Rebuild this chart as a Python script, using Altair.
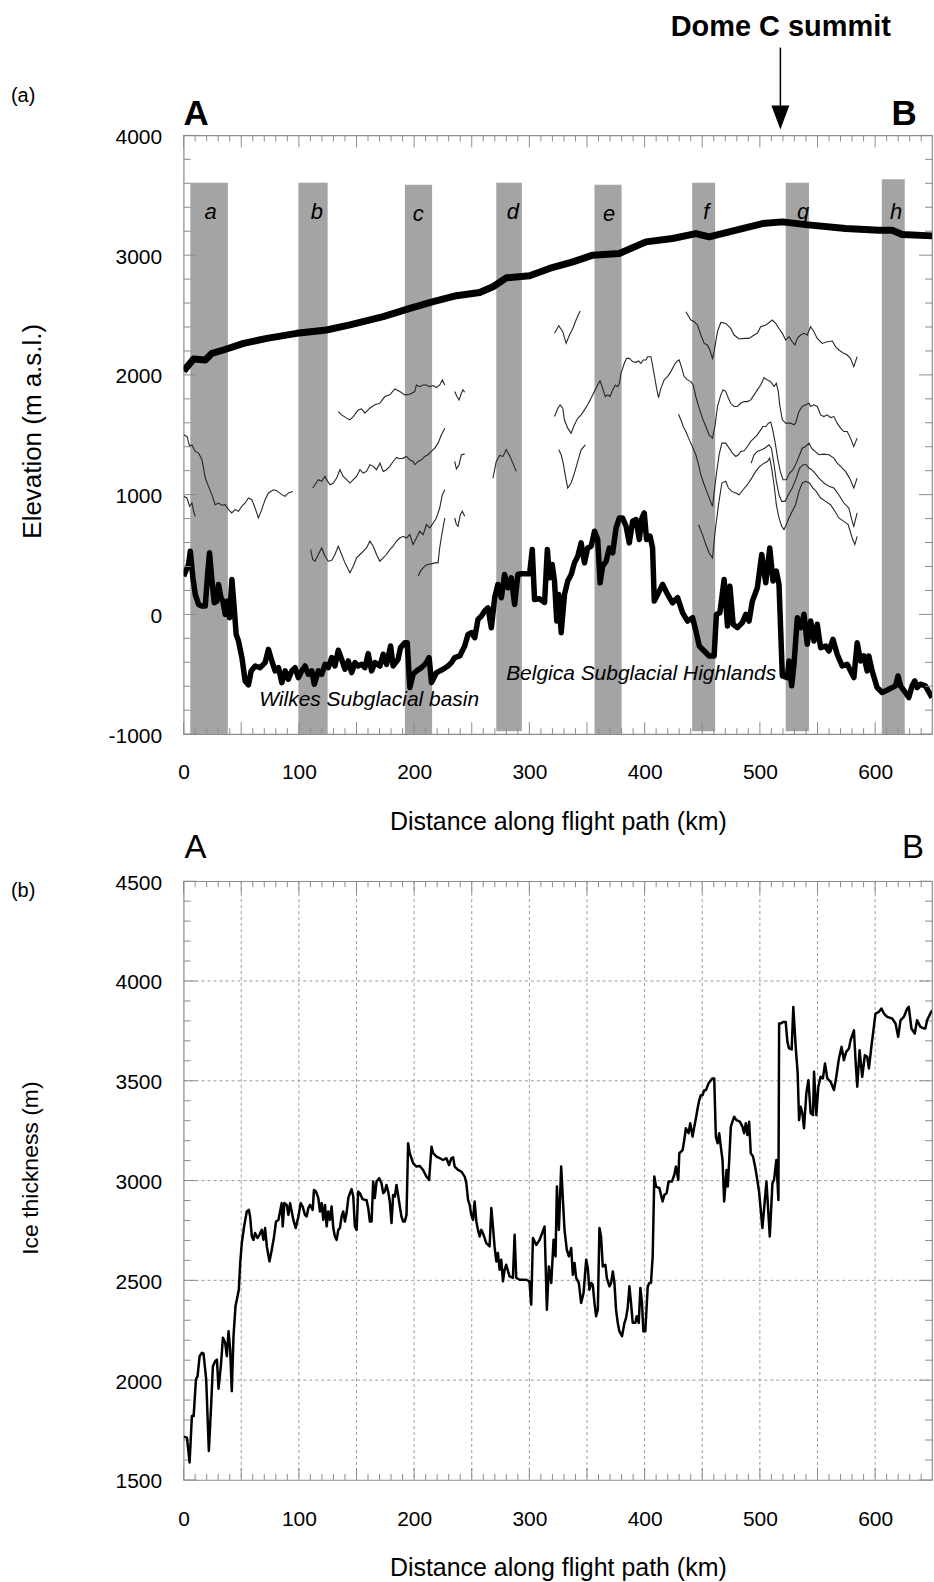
import altair as alt
import pandas as pd

# ---------------- panel (a): surface and bed ----------------
surface_km = [0, 8.7, 18.8, 24.6, 34.6, 52, 72.2, 98.2, 124, 144.3, 173.2, 196.3, 216.5, 236.7, 256.9, 268.4,
              280, 300.2, 317.5, 337.7, 355, 378, 401.2, 424.2, 444.5, 456, 473.3, 502.2, 519.5, 539.7,
              574.4, 603.2, 614.7, 623.4, 649.4]
surface_el = [2033, 2133, 2125, 2180, 2208, 2263, 2305, 2347, 2375, 2417, 2486, 2555, 2611, 2661, 2688, 2736,
              2811, 2828, 2889, 2944, 3000, 3014, 3111, 3139, 3180, 3153, 3194, 3264, 3278, 3255,
              3222, 3208, 3208, 3172, 3161]

bed_km = [0, 4.3, 5.8, 8.1, 10.1, 13, 15.9, 18.8, 20.8, 22.5, 24.6, 26.6, 28.9, 30.3, 32.4, 34.1, 36.1, 38.1,
          39.8, 41.9, 43.9, 45.6, 47.6, 50.6, 53.4, 56.3, 58.6, 62.1, 66.4, 70.7, 73.6, 76.5, 79.4, 82.3,
          85.2, 88.1, 90.9, 93.8, 96.7, 99.6, 102.5, 105.4, 108.2, 111.2, 113.4, 116.9, 119.8, 122.7, 125.5,
          128.5, 131.3, 134.2, 137.1, 140, 142.9, 145.8, 148.7, 151.5, 154.5, 157.3, 160.2, 163.1, 166,
          170.3, 173.2, 176.1, 179.6, 181.8, 186.1, 188.2, 192, 194, 196.3, 199.1, 202.1, 206.4, 210.7, 213,
          215.1, 219.4, 225.1, 229.4, 232.4, 235.2, 239.6, 243.9, 246.8, 249.7, 252.6, 255.4, 258.4, 261.2,
          264.1, 267, 269.9, 272.7, 275.7, 278.5, 281.4, 284.3, 287.2, 290, 293, 300.2, 302.5, 304.5, 308.8,
          313.2, 315.6, 317.5, 319.8, 321.8, 323.8, 325.5, 327.6, 330.5, 333.3, 336.3, 339.1, 342, 344.9,
          347.8, 350.6, 353.6, 356.5, 359.3, 361.4, 363.6, 366.6, 369.4, 372.3, 375.2, 378.1, 380.9, 383.9,
          386.7, 389.6, 392.6, 395.4, 397.7, 399.7, 401.7, 404.7, 406.9, 408.4, 411.3, 415.6, 419.9, 424.2,
          428.6, 432.9, 437.2, 441.6, 444.5, 447.4, 451.7, 456, 460.3, 462.3, 465.3, 469, 471.9, 474, 476.8,
          480.5, 484.8, 487.8, 490.6, 493.5, 497.8, 501.6, 505.1, 508.6, 511.4, 514.3, 516.6, 519.5, 523.8,
          525.3, 527.6, 529.6, 532.5, 535.4, 538.3, 541.1, 544.1, 547, 549.8, 552.7, 557.1, 559.9, 563.4,
          567.1, 571.4, 575.8, 578.7, 581.6, 584.4, 587.4, 590.2, 593.1, 594.5, 597.4, 601.7, 606.1, 611.9,
          617.7, 619.9, 622, 626.3, 629.2, 632.1, 634.4, 636.4, 639.3, 643.6, 649.4]
bed_el = [319, 417, 528, 305, 167, 83, 69, 69, 333, 514, 278, 97, 111, 250, 139, 111, 0, 111,
          -28, 292, 55, -167, -222, -361, -556, -589, -472, -431, -445, -403, -292, -389, -472, -445,
          -570, -472, -542, -472, -445, -528, -472, -431, -500, -472, -583, -472, -500, -417, -445,
          -361, -431, -300, -375, -458, -389, -486, -403, -431, -417, -445, -328, -472, -403,
          -431, -333, -417, -264, -431, -375, -278, -236, -236, -611, -500, -472, -445, -403, -361,
          -570, -486, -458, -431, -403, -361, -347, -264, -167, -153, -195, -42, -14, 28,
          55, -111, 139, 250, 139, 333, 222, 305, 83, 333, 339, 339, 542, 125, 130,
          100, 542, 305, 417, 278, -56, 167, -153, 167, 278, 333, 430, 486, 597,
          430, 555, 569, 694, 625, 264, 403, 444, 555, 514, 722, 805, 805, 736,
          597, 778, 792, 625, 805, 847, 625, 653, 555, 111, 167, 250, 167, 97,
          139, 14, -56, -28, -139, -264, -306, -347, -347, 0, 14, 292, -97, 236, -83,
          -111, -69, 0, -56, 111, 222, 500, 264, 555, 278, 361, 250, -514, -528,
          -389, -597, -417, -28, -111, 0, -250, -56, -222, -83, -278, -264, -306, -208,
          -333, -431, -417, -472, -528, -236, -389, -347, -472, -347, -472, -611, -653, -625,
          -597, -514, -597, -653, -695, -597, -555, -611, -583, -597, -695]

# ---------------- panel (a): internal layers (thin lines) ----------------
l1_km = [0, 2.9, 5.2, 7.2, 10.1, 13, 15.9, 17.3, 18.8, 21.6, 24.5, 27.4, 30.3, 33.2, 36.1, 39, 41.8, 44.7,
         47.6, 50.5, 53.4, 56.3, 59.2, 62, 64.9, 67.8, 70.7, 73.6, 77.9, 80.8, 85.1, 88, 90.9, 94.7]
l1_el = [1500, 1486, 1403, 1416, 1361, 1347, 1291, 1222, 1139, 1069, 1000, 916, 930, 911, 916, 875, 847, 875,
         861, 903, 930, 972, 958, 889, 805, 875, 958, 1014, 1041, 1033, 1000, 986, 1014, 1027]
l2_km = [0, 2.9, 5.2, 7.2, 8.7, 10.1]
l2_el = [986, 972, 903, 930, 861, 819]
l3_km = [134.2, 137.1, 141.4, 144.3, 147.2, 151.5, 154.4, 157.3, 161.6, 165.9, 170.3, 174.6, 178.9, 183.3,
         187.6, 191.9, 196.2, 200.6, 202, 204.9, 207.8, 210.7, 213.6, 216.5, 219.3, 222.2, 224.5, 226.6]
l3_el = [1694, 1666, 1639, 1625, 1652, 1708, 1716, 1680, 1722, 1750, 1764, 1819, 1833, 1883,
         1861, 1833, 1839, 1861, 1916, 1902, 1916, 1916, 1902, 1911, 1894, 1916, 1958, 1916]
l4_km = [235.2, 237.2, 239, 241, 242.4, 243.9]
l4_el = [1861, 1819, 1791, 1847, 1875, 1855]
l5_km = [112, 114, 116.9, 119.8, 122.7, 124.1, 127, 129.9, 132.8, 135.6, 138.5, 141.4, 144.3, 147.2, 150.1,
         153, 155.8, 158.7, 161.6, 164.5, 167.4, 170.3, 173.2, 176, 178.9, 181.8, 184.7, 187.6, 190.5,
         193.4, 196.2, 199.1, 200.6, 203.5, 206.3, 209.2, 212.1, 215, 217.9, 220.8, 223.7, 226.6]
l5_el = [1055, 1083, 1125, 1111, 1152, 1125, 1083, 1097, 1138, 1208, 1152, 1125, 1097, 1125, 1152,
         1208, 1180, 1194, 1250, 1236, 1208, 1263, 1194, 1208, 1236, 1277, 1311, 1300, 1305,
         1319, 1291, 1277, 1250, 1277, 1291, 1319, 1333, 1361, 1388, 1430, 1500, 1555]
l6_km = [235.2, 236.7, 239, 241, 243.9]
l6_el = [1277, 1216, 1250, 1333, 1338]
l7_km = [110.2, 112, 114, 116.9, 119.8, 122.7, 125.5, 128.4, 131.3, 134.2, 137.1, 140, 142.9, 144.3, 147.2,
         150.1, 153, 155.8, 158.7, 161.6, 164.5, 167.4, 170.3, 173.2, 176, 178.9, 181.8, 184.7, 187.6,
         190.5, 193.4, 196.2, 199.1, 202, 204.9, 207.8, 210.7, 213.6, 216.5, 219.3, 222.2, 224.5, 226.6]
l7_el = [541, 458, 444, 500, 555, 486, 444, 450, 500, 569, 500, 430, 375, 347, 402,
         472, 500, 527, 555, 611, 569, 500, 444, 472, 500, 541, 569, 611, 638,
         652, 638, 666, 583, 638, 694, 666, 750, 722, 763, 805, 888, 1000, 1041]
l8_km = [203.5, 205.5, 207.8, 210.1, 212.1, 215, 217.9, 220.8, 222.2, 224.5, 226.6]
l8_el = [319, 361, 388, 411, 416, 422, 430, 430, 555, 694, 805]
l9_km = [235.2, 236.7, 238.1, 240.1, 241.8, 243.9]
l9_el = [805, 750, 736, 833, 861, 819]
l10_km = [268.4, 271.3, 274.2, 277.1, 279.9, 282.8, 285.7, 288.6]
l10_el = [1138, 1277, 1327, 1319, 1375, 1327, 1263, 1194]
l11_km = [321.8, 325.5, 329, 331.9, 334.8, 337.7, 340.5, 344]
l11_el = [2347, 2411, 2361, 2263, 2333, 2388, 2458, 2533]
l12_km = [435.8, 440.1, 443, 445.9, 448.8, 451.7, 454.5, 456.6, 458.9, 460.3, 463.2, 466.1, 470.4, 474.7,
          477.6, 482, 486.3, 490.6, 495, 497.8, 500.7, 505.1, 508, 510.8, 513.7, 516.6, 519.5, 522.4,
          525.3, 528.1, 530.4, 532.5, 535.3, 538.2, 541.1, 544, 546.9, 549.8, 554.1, 558.4, 562.8, 565.7,
          568.5, 572.9, 575.8, 578.6, 581.5, 584.4]
l12_el = [2527, 2458, 2444, 2416, 2333, 2263, 2250, 2208, 2138, 2194, 2361, 2438, 2430, 2388,
          2333, 2300, 2305, 2305, 2333, 2347, 2402, 2416, 2438, 2458, 2430, 2388, 2347, 2291,
          2319, 2277, 2250, 2305, 2333, 2347, 2333, 2402, 2361, 2305, 2263, 2277, 2283, 2236,
          2208, 2180, 2166, 2138, 2069, 2152]
l13_km = [321.8, 324.7, 326.7, 329, 330.4, 333.3, 336.2, 339.1, 342, 344.9, 347.8, 350.6, 353.5, 356.4,
          359.3, 361.3, 363.6, 365.9, 368, 370, 372.3, 374.6, 376.6, 378.1, 379.5, 382.4, 384.4, 386.7,
          389.6, 392.5, 394.8, 396.8, 398.8, 401.2, 402.6, 405.5, 408.4, 410.4, 412.1, 414.1, 417, 419.9,
          422.8, 425.7, 427.7, 430, 432.3, 434.3, 437.2, 440.1, 442.1, 444.4, 447.3, 450.2, 453.1, 456,
          458.9, 461.2, 463.2, 466.1, 468.1, 470.4, 472.7, 474.7, 477.6, 480.5, 483.4, 486.3, 489.2,
          492.1, 495, 497.8, 500.7, 503.6, 506.5, 509.4, 512.3, 514.3, 516, 517.2, 519.5, 522.4, 526.7,
          529.6, 531, 533.9, 536.8, 539.7, 542.6, 544, 546.9, 549.8, 552.7, 555.6, 558.4, 561.3, 564.2,
          567.1, 570, 572.9, 575.8, 578.6, 581.5, 584.4]
l13_el = [1652, 1722, 1750, 1722, 1625, 1555, 1513, 1583, 1638, 1666, 1708, 1750, 1805, 1861,
          1916, 1950, 1888, 1819, 1833, 1819, 1875, 1916, 1902, 1930, 2013, 2097, 2138, 2138,
          2111, 2105, 2116, 2097, 2125, 2125, 2152, 2152, 1999, 1888, 1811, 1888, 1958, 1986,
          2027, 2083, 2111, 2125, 2055, 1986, 1958, 1944, 1916, 1819, 1722, 1638, 1569, 1499,
          1472, 1583, 1736, 1833, 1875, 1861, 1805, 1763, 1736, 1736, 1763, 1777, 1777,
          1791, 1833, 1875, 1916, 1977, 1958, 1944, 1902, 1930, 1861, 1750, 1625, 1597, 1597,
          1583, 1597, 1694, 1736, 1750, 1763, 1736, 1750, 1736, 1666, 1652, 1666, 1644, 1652,
          1597, 1555, 1527, 1527, 1472, 1402, 1472]
l14_km = [325.5, 327.6, 329.6, 331.3, 333.3, 336.2, 339.1, 342, 344.9, 348.6]
l14_el = [1374, 1333, 1250, 1152, 1055, 1097, 1180, 1277, 1374, 1416]
l15_km = [429.4, 431.5, 433.5, 435.8, 438.1, 440.1, 442.1, 444.4, 446.8, 448.8, 451.7, 454.5, 456.6, 458.9,
          461.8, 464.6, 467, 470.4, 473.3, 476.2, 479.1, 481.4, 483.4, 486.3, 489.2, 492.1, 495, 497.8,
          500.7, 502.7, 505.1, 507.4, 509.4, 510.8, 513.1, 515.4, 517.7, 520.1, 523, 525.8, 528.7, 531.6,
          534.5, 536.8, 539.7, 542.6, 544.9, 547.8, 551.2, 555.6, 559.9, 564.2, 567.1, 570, 574.3, 577.8,
          581.5, 584.4]
l15_el = [1672, 1624, 1569, 1527, 1472, 1430, 1388, 1333, 1250, 1166, 1083, 1013, 958, 902,
          1138, 1333, 1430, 1430, 1388, 1347, 1319, 1333, 1361, 1366, 1402, 1444, 1472, 1499,
          1541, 1569, 1569, 1597, 1605, 1555, 1444, 1305, 1194, 1124, 1124, 1180, 1208, 1263,
          1333, 1388, 1402, 1430, 1388, 1361, 1333, 1338, 1333, 1305, 1263, 1236, 1194, 1138,
          1055, 1138]
l16_km = [492.4, 495, 497.8, 501.6, 505.1, 507.9, 510, 512.3, 514.3, 516.6, 518.9, 521.8, 524.7, 528.1,
          531.6, 534.5, 537.4, 540.3, 542.6, 544.9, 547.8, 551.2, 555.6, 559.9, 564.2, 568.5, 572.9,
          577.2, 580.1, 581.5, 584.4]
l16_el = [1263, 1333, 1361, 1374, 1394, 1416, 1388, 1250, 1111, 999, 944, 944, 999, 1055,
          1138, 1222, 1250, 1250, 1222, 1208, 1180, 1138, 1097, 1069, 1055, 999, 930,
          888, 777, 736, 847]
l17_km = [446.8, 450.2, 453.1, 456, 458.9, 461.2, 464.1, 467, 470.4, 472.7, 475.6, 479.1, 482, 485.4,
          489.2, 492.9, 496.4, 499.9, 503.6, 506.5, 508.5, 510.2, 512.3, 514.3, 516.6, 518.9, 520.9,
          522.9, 525.2, 528.1, 531, 533.9, 536.8, 539.7, 543.1, 546, 548.9, 552.7, 557, 561.3, 565.1,
          568.5, 572.9, 576.6, 580.1, 582.4, 584.4]
l17_el = [749, 666, 583, 513, 472, 694, 916, 1097, 1111, 1055, 1027, 1013, 999, 1041,
          1083, 1138, 1194, 1236, 1263, 1277, 1305, 1222, 1083, 916, 805, 736, 708,
          749, 805, 861, 916, 1027, 1097, 1111, 1097, 1055, 1027, 972, 944, 916, 861,
          805, 777, 749, 638, 583, 652]

# ---------------- panel (a): shaded sections, labels ----------------
bar_letter = ["a", "b", "c", "d", "e", "f", "g", "h"]
bar_start = [5.8, 99.6, 192.0, 271.3, 356.5, 441.3, 522.4, 605.8]
bar_end = [38.4, 125.0, 215.6, 293.5, 380.0, 461.2, 542.6, 625.7]
bar_top = [3605, 3605, 3588, 3605, 3588, 3605, 3605, 3633]
bar_bottom = [-1000, -1000, -1000, -975, -1000, -975, -975, -1000]
letter_km = [23.5, 115.5, 203.5, 285.7, 369.2, 453.6, 537.4, 618.2]
letter_el = [3305, 3305, 3283, 3305, 3283, 3305, 3305, 3305]

region_text = ["Wilkes Subglacial basin", "Belgica Subglacial Highlands"]
region_km = [161.0, 397.0]
region_el = [-764, -548]

dome_text = ["Dome C summit"]
dome_text_km = [518.1]
dome_arrow_km = [517.8]

# ---------------- panel (b): ice thickness ----------------
thick_km = [0, 2.9, 5.2, 7.2, 8.7, 10.7, 12.1, 13.9, 15.9, 17.3, 19.6, 21.9, 24, 25.4, 27.4, 28.9, 30.3,
            32.3, 34.1, 36.1, 37.5, 39, 40.4, 41.8, 43.3, 45, 46.8, 47.9, 49.1, 50.5, 52.5, 54.8, 56.6,
            57.7, 59.2, 60.6, 62, 64.1, 65.8, 67.8, 69.3, 70.7, 72.2, 74.5, 76.5, 78.5, 80.2, 82.3, 83.7,
            85.1, 86, 87.4, 89.5, 90.9, 92.4, 93.8, 95.2, 97.3, 99.6, 101.6, 103.3, 105.3, 106.8, 108.2,
            109.7, 112, 113.1, 114.9, 116.9, 118.3, 119.8, 121.2, 122.7, 124.1, 125.5, 127, 128.4, 129.9,
            131.3, 132.8, 134.2, 135.6, 137.1, 138.5, 140, 141.4, 142.9, 144.3, 145.7, 147.2, 148.6, 150.1,
            151.5, 153, 155.3, 157.3, 158.7, 160.2, 161.6, 163.1, 164.5, 165.9, 167.4, 169.7, 171.7, 173.2,
            174.6, 176, 177.5, 178.9, 180.4, 181.8, 183.3, 184.7, 186.1, 187.6, 189, 190.5, 191.9, 193.4,
            194.8, 196.2, 199.1, 202, 204.9, 207.8, 210.7, 213, 215.1, 216.5, 219.4, 222.2, 225.1, 228,
            230.3, 232.3, 233.8, 235.2, 238.1, 241, 243.9, 245.3, 246.8, 248.2, 249.6, 251.1, 252.5, 254,
            255.4, 256.9, 258.3, 259.7, 261.2, 262.6, 265.5, 267, 268.4, 269.8, 271.3, 272.7, 274.2, 275.6,
            277.1, 278.5, 279.9, 282.8, 285.7, 287.2, 288.6, 291.5, 294.4, 297.3, 300.1, 301.6, 303.1, 306,
            308.9, 313.2, 315.2, 316.9, 319, 321, 322.7, 323.9, 325.6, 327.6, 329.1, 330.5, 332.5, 334.3,
            336.3, 337.7, 339.2, 340.6, 342.9, 344.9, 347, 349.3, 350.7, 352.1, 353.6, 355, 356.5, 357.9,
            359.4, 360.8, 362.2, 363.7, 366, 367.2, 369.5, 370.9, 372.4, 373.8, 375.2, 376.7, 378.1, 380.4,
            382.5, 383.9, 385.3, 386.8, 388.2, 389.7, 392, 393.1, 394.9, 396.3, 397.7, 398.9, 400.6, 402.7,
            404.1, 405.5, 407, 408.4, 409.9, 412.8, 415.6, 417.1, 419.1, 420.8, 423.7, 425.7, 427.2, 429.2,
            430.1, 433, 434.4, 435.8, 438.1, 439.6, 441.6, 443.1, 444.5, 446, 447.4, 448.8, 450.3, 451.7,
            453.2, 455.5, 457.5, 458.9, 460.4, 461.8, 463.3, 464.7, 466.1, 467.6, 469, 471.1, 472.2, 473.4,
            474.8, 477.7, 479.7, 482.6, 484.9, 486.3, 487.8, 489.2, 490.7, 492.1, 494.1, 496.4, 499.3,
            502.2, 505.7, 508.6, 510.9, 512.3, 514.3, 516.1, 516.7, 518.1, 520.1, 522.4, 523.9, 525.3,
            527.6, 529, 531.1, 532.8, 534, 535.4, 536.9, 538.3, 540.3, 542.1, 544.1, 546.1, 547, 549,
            550.7, 552.7, 554.7, 556.5, 558.5, 561.4, 564.3, 566.3, 568.6, 570.9, 572.9, 574.9, 577.3,
            578.7, 581.6, 583, 584.5, 586.5, 588.8, 591.1, 593.1, 594.6, 596.9, 598.9, 600.3, 603.2, 605.5,
            607.6, 610.5, 614.8, 617.7, 620, 622, 624.9, 627.8, 629.2, 631.5, 634.4, 636.4, 639.3, 642.2,
            643.6, 645.1, 647.9, 649.4]
thick_m = [1717, 1712, 1587, 1820, 1820, 2003, 2020, 2120, 2137, 2133, 2003, 1645, 1887, 2070, 2095, 2103, 1957,
           2070, 2212, 2187, 2120, 2245, 2153, 1945, 2220, 2370, 2420, 2453, 2587, 2687, 2770, 2845, 2853,
           2820, 2720, 2703, 2737, 2712, 2728, 2753, 2703, 2762, 2670, 2595, 2653, 2720, 2795, 2803, 2845,
           2887, 2770, 2887, 2878, 2828, 2887, 2845, 2803, 2762, 2820, 2887, 2870, 2828, 2820, 2862,
           2878, 2853, 2953, 2945, 2912, 2845, 2887, 2803, 2878, 2770, 2845, 2803, 2870, 2762,
           2720, 2703, 2753, 2762, 2820, 2845, 2795, 2837, 2912, 2937, 2957, 2920, 2770, 2753,
           2945, 2937, 2907, 2903, 2903, 2862, 2795, 2795, 2995, 2912, 2995, 3012, 2987, 2937,
           2945, 2978, 2945, 2895, 2787, 2928, 2920, 2978, 2928, 2870, 2820, 2795, 2795, 2828,
           3187, 3137, 3087, 3070, 3073, 3053, 3020, 3003, 3170, 3137, 3120, 3112, 3103, 3112,
           3078, 3112, 3117, 3070, 3053, 3045, 3020, 2987, 2903, 2878, 2828, 2803, 2895, 2795,
           2753, 2720, 2753, 2737, 2712, 2687, 2670, 2862, 2770, 2670, 2595, 2637, 2553, 2603,
           2495, 2553, 2578, 2520, 2512, 2728, 2512, 2503, 2503, 2503, 2495, 2378, 2712, 2678,
           2703, 2770, 2353, 2570, 2487, 2703, 2620, 2970, 2753, 3070, 2903, 2753, 2653, 2620,
           2662, 2528, 2587, 2512, 2487, 2387, 2437, 2603, 2562, 2453, 2487, 2478, 2387, 2320,
           2353, 2762, 2720, 2570, 2578, 2512, 2470, 2487, 2545, 2487, 2353, 2287, 2245, 2220,
           2287, 2312, 2362, 2470, 2387, 2287, 2287, 2320, 2287, 2462, 2387, 2245, 2245, 2470,
           2487, 2487, 2620, 3020, 2970, 2962, 2895, 2928, 2937, 2995, 2995, 3028, 3070, 3003,
           3137, 3153, 3203, 3262, 3237, 3287, 3220, 3270, 3312, 3362, 3403, 3428, 3428, 3453,
           3453, 3487, 3503, 3512, 3512, 3220, 3187, 3237, 3170, 3103, 2895, 3053, 2970, 3103,
           3270, 3320, 3303, 3295, 3270, 3237, 3287, 3228, 3295, 3137, 3120, 3053, 2945,
           2762, 2995, 2720, 2987, 3003, 3103, 2903, 3787, 3787, 3795, 3795, 3695, 3662,
           3657, 3870, 3670, 3537, 3303, 3370, 3337, 3262, 3437, 3503, 3337, 3328, 3545, 3328,
           3470, 3520, 3512, 3587, 3512, 3495, 3453, 3520, 3612, 3670, 3603, 3645, 3662,
           3703, 3753, 3603, 3470, 3653, 3520, 3628, 3620, 3562, 3678, 3770, 3837, 3845, 3862,
           3837, 3820, 3812, 3787, 3720, 3803, 3820, 3862, 3870, 3762, 3737, 3803, 3770, 3762,
           3762, 3803, 3837, 3853]

x_label_values = [0, 100, 200, 300, 400, 500, 600]
elev_label_values = [-1000, 0, 1000, 2000, 3000, 4000]
thick_label_values = [1500, 2000, 2500, 3000, 3500, 4000, 4500]

# ---------------- layout / style constants ----------------
W, H = 750, 600
LEFT, TOP = 183, 133          # position of the upper plot area inside the page
FONT = "Liberation Sans"
AXC = "#8c8c8c"
XS = alt.Scale(domain=[0, 649.35], nice=False, zero=False)
YA = alt.Scale(domain=[-1000, 4000], nice=False, zero=False)
YB = alt.Scale(domain=[1500, 4500], nice=False, zero=False)

COMMON = dict(labelExpr="'' + datum.value", labelFontSize=21, ticks=False, tickSize=0, labelFlush=False,
              domain=False, grid=False, titleFontWeight="normal")
XA_A = alt.Axis(values=x_label_values, labelPadding=27, title="Distance along flight path (km)",
                titleFontSize=25, titleY=96, titleX=W / 2, titleBaseline="alphabetic", titleAlign="center",
                orient="bottom", **COMMON)
YA_A = alt.Axis(values=elev_label_values, labelPadding=22, labelOffset=2, title="Elevation (m a.s.l.)",
                titleFontSize=26, titleX=-151, titleY=296, titleAngle=270, titleAlign="center",
                titleBaseline="middle", orient="left", **COMMON)
XA_B = alt.Axis(values=x_label_values, labelPadding=29, title="Distance along flight path (km)",
                titleFontSize=25, titleY=96, titleX=W / 2, titleBaseline="alphabetic", titleAlign="center",
                orient="bottom", **COMMON)
YA_B = alt.Axis(values=thick_label_values, labelPadding=22, labelOffset=2, title="Ice thickness (m)",
                titleFontSize=23, titleX=-153, titleY=287, titleAngle=270, titleAlign="center",
                titleBaseline="middle", orient="left", **COMMON)


def tick_layers(xax, yfield, yscale, yax, ymin, ymaj):
    out = []
    xminor = [v for v in range(0, 641, 10) if v % 50]
    xmajor = list(range(0, 601, 50))
    for vals, ln in ((xminor, 6), (xmajor, 12)):
        d = pd.DataFrame({"km": vals})
        base = alt.Chart(d).mark_rule(color=AXC, strokeWidth=1)
        out.append(base.encode(x=alt.X("km:Q", scale=XS, axis=xax), y=alt.value(0), y2=alt.value(ln)))
        out.append(base.encode(x=alt.X("km:Q", scale=XS, axis=xax), y=alt.value(H), y2=alt.value(H - ln)))
    for vals, ln in ((ymin, 7), (ymaj, 13)):
        d = pd.DataFrame({yfield: vals})
        base = alt.Chart(d).mark_rule(color=AXC, strokeWidth=1)
        out.append(base.encode(y=alt.Y(f"{yfield}:Q", scale=yscale, axis=yax), x=alt.value(0), x2=alt.value(ln)))
        out.append(base.encode(y=alt.Y(f"{yfield}:Q", scale=yscale, axis=yax), x=alt.value(W), x2=alt.value(W - ln)))
    return out


def px_text(txt, x, y, size, weight="normal", align="left", style="normal"):
    return alt.Chart(pd.DataFrame({"t": [txt]})).mark_text(
        fontSize=size, fontWeight=weight, align=align, baseline="alphabetic", font=FONT,
        fontStyle=style, color="black").encode(x=alt.value(x), y=alt.value(y), text="t:N")


def XAa(f):
    return alt.X(f"{f}:Q", scale=XS, axis=XA_A)


def YAa(f):
    return alt.Y(f"{f}:Q", scale=YA, axis=YA_A)


# invisible anchor fixing the page origin (top-left corner of the figure)
anchor = alt.Chart(pd.DataFrame({"a": [0]})).mark_rule(opacity=0, strokeWidth=0.01).encode(
    x=alt.value(-LEFT), x2=alt.value(-LEFT), y=alt.value(-TOP), y2=alt.value(-TOP + 1))

# ---------------- panel (a) ----------------
bars = pd.DataFrame({"letter": bar_letter, "km": bar_start, "km2": bar_end,
                     "el": bar_bottom, "el2": bar_top, "lk": letter_km, "le": letter_el})

bar_layer = alt.Chart(bars).mark_rect(color="#a4a4a4").encode(
    x=XAa("km"), x2="km2:Q", y=YAa("el"), y2="el2:Q")

segs = [l1_km, l2_km, l3_km, l4_km, l5_km, l6_km, l7_km, l8_km, l9_km, l10_km, l11_km, l12_km,
        l13_km, l14_km, l15_km, l16_km, l17_km]
segs_el = [l1_el, l2_el, l3_el, l4_el, l5_el, l6_el, l7_el, l8_el, l9_el, l10_el, l11_el, l12_el,
           l13_el, l14_el, l15_el, l16_el, l17_el]
rows = []
for s, (ks, es) in enumerate(zip(segs, segs_el)):
    for i, (k, e) in enumerate(zip(ks, es)):
        rows.append({"seg": s, "i": i, "km": k, "el": e})
layers_df = pd.DataFrame(rows)

thin_layer = alt.Chart(layers_df).mark_line(color="#262626", strokeWidth=1.1, clip=True).encode(
    x=XAa("km"), y=YAa("el"), detail="seg:N", order="i:Q")

surface_df = pd.DataFrame({"km": surface_km, "el": surface_el, "i": range(len(surface_km))})
bed_df = pd.DataFrame({"km": bed_km, "el": bed_el, "i": range(len(bed_km))})

surface_layer = alt.Chart(surface_df).mark_line(color="black", strokeWidth=7, strokeJoin="round",
                                                clip=True).encode(
    x=XAa("km"), y=YAa("el"), order="i:Q")
bed_layer = alt.Chart(bed_df).mark_line(color="black", strokeWidth=5.5, strokeJoin="round",
                                        clip=True).encode(
    x=XAa("km"), y=YAa("el"), order="i:Q")

letters_layer = alt.Chart(bars).mark_text(fontSize=22, fontStyle="italic", font=FONT,
                                          baseline="alphabetic", color="black").encode(
    x=XAa("lk"), y=YAa("le"), text="letter:N")

regions = pd.DataFrame({"t": region_text, "km": region_km, "el": region_el})
regions_layer = alt.Chart(regions).mark_text(fontSize=21, fontStyle="italic", font=FONT,
                                             baseline="alphabetic", color="black").encode(
    x=XAa("km"), y=YAa("el"), text="t:N")

dome_t = pd.DataFrame({"t": dome_text, "km": dome_text_km})
dome_a = pd.DataFrame({"km": dome_arrow_km})
dome_text_layer = alt.Chart(dome_t).mark_text(fontSize=29, fontWeight="bold", font=FONT,
                                              baseline="alphabetic", color="black").encode(
    x=XAa("km"), y=alt.value(-100), text="t:N")
arrow_line = alt.Chart(dome_a).mark_rule(color="black", strokeWidth=1.5).encode(
    x=XAa("km"), y=alt.value(-88), y2=alt.value(-29))
arrow_head = alt.Chart(dome_a).mark_point(shape="M-0.75,-1L0.75,-1L0,1Z", size=576, filled=True,
                                          color="black", opacity=1).encode(
    x=XAa("km"), y=alt.value(-18))

panel_a = alt.layer(
    anchor,
    bar_layer, thin_layer, bed_layer, surface_layer,
    *tick_layers(XA_A, "el", YA, YA_A, [v for v in range(-1000, 4001, 200) if v % 1000],
                 list(range(-1000, 4001, 1000))),
    letters_layer, regions_layer,
    px_text("A", 0, -10, 35, "bold"),
    px_text("B", 722, -10, 35, "bold", "center"),
    px_text("(a)", -173, -33, 20),
    dome_text_layer, arrow_line, arrow_head,
).properties(width=W, height=H)

# ---------------- panel (b) ----------------
thick_df = pd.DataFrame({"km": thick_km, "th": thick_m, "i": range(len(thick_km))})

grid_x = alt.Chart(pd.DataFrame({"km": list(range(50, 601, 50))})).mark_rule(
    color="#9a9a9a", strokeWidth=1, strokeDash=[3, 3]).encode(
    x=alt.X("km:Q", scale=XS, axis=XA_B), y=alt.value(0), y2=alt.value(H))
grid_y = alt.Chart(pd.DataFrame({"th": list(range(2000, 4001, 500))})).mark_rule(
    color="#9a9a9a", strokeWidth=1, strokeDash=[3, 3]).encode(
    y=alt.Y("th:Q", scale=YB, axis=YA_B), x=alt.value(0), x2=alt.value(W))

thick_layer = alt.Chart(thick_df).mark_line(color="black", strokeWidth=2.5, strokeJoin="round",
                                            clip=True).encode(
    x=alt.X("km:Q", scale=XS, axis=XA_B), y=alt.Y("th:Q", scale=YB, axis=YA_B), order="i:Q")

panel_b = alt.layer(
    grid_x, grid_y,
    *tick_layers(XA_B, "th", YB, YA_B, [v for v in range(1500, 4501, 100) if v % 500],
                 list(range(1500, 4501, 500))),
    thick_layer,
    px_text("A", 1, -23.5, 33),
    px_text("B", 731, -23.5, 33, "normal", "center"),
    px_text("(b)", -173, 16, 20),
).properties(width=W, height=H)

chart = alt.vconcat(panel_a, panel_b, spacing=147.4, bounds="flush").properties(
    padding={"left": 0, "top": 0, "right": 0, "bottom": 0}
).configure(font=FONT).configure_view(stroke=AXC, strokeWidth=1.2).configure_axis(
    labelColor="black", titleColor="black", labelFont=FONT, titleFont=FONT)

chart.save("out.html", embed_options={"renderer": "svg", "actions": False})
